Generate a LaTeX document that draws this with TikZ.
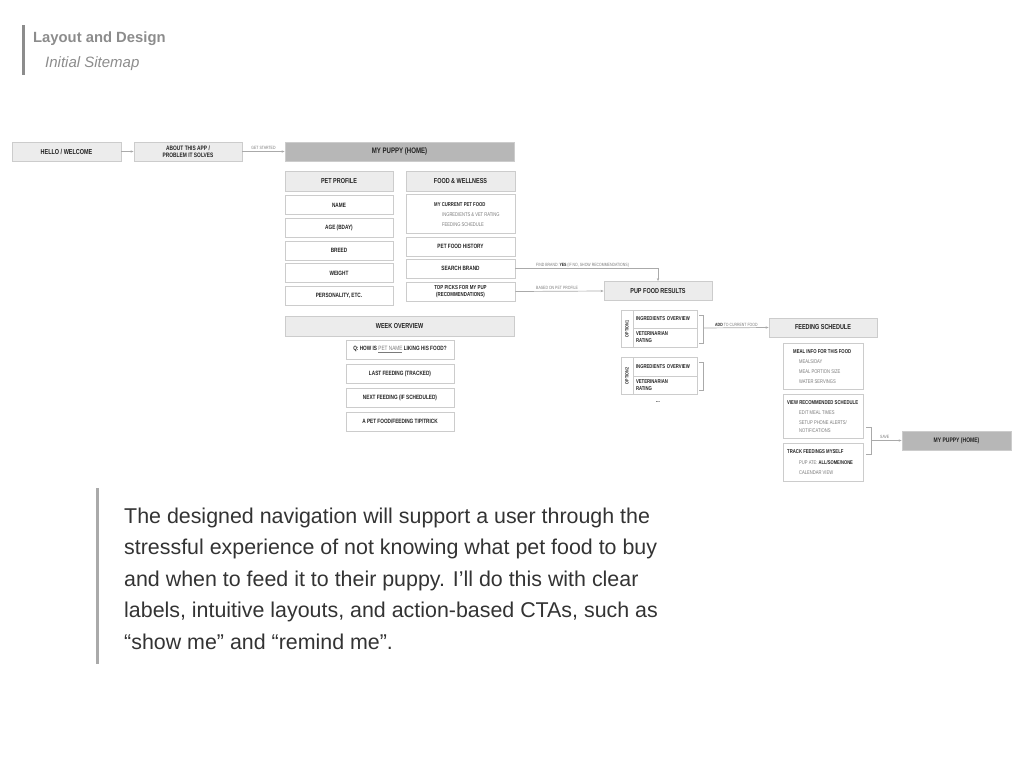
\documentclass[tikz,border=0pt]{standalone}
\usepackage{fontspec}
\setmainfont{Liberation Sans}
\newfontfamily\mapfont[FakeStretch=0.76]{Liberation Sans}
\usetikzlibrary{arrows.meta,positioning}

\definecolor{boxline}{HTML}{CCCCCC}
\definecolor{headfill}{HTML}{ECECEC}
\definecolor{homefill}{HTML}{B7B7B7}
\definecolor{mapink}{HTML}{222222}
\definecolor{subink}{HTML}{7A7A7A}
\definecolor{linkgray}{HTML}{AAAAAA}
\definecolor{titleink}{HTML}{8C8C8C}
\definecolor{bodyink}{HTML}{333333}

\tikzset{
  mapbox/.style={draw=boxline,line width=0.8pt,fill=white,minimum width=108pt,
    minimum height=19pt,inner sep=0pt,text=mapink,
    font=\mapfont\bfseries\fontsize{6.2}{7}\selectfont},
  headbox/.style={mapbox,fill=headfill,minimum height=20pt,
    font=\mapfont\bfseries\fontsize{7.2}{8}\selectfont},
  homebox/.style={headbox,fill=homefill},
  rowbox/.style={mapbox,minimum width=64pt,text width=58pt,align=left,
    font=\mapfont\bfseries\fontsize{5.6}{7}\selectfont},
  itemtitle/.style={anchor=west,inner sep=0pt,text=mapink,
    font=\mapfont\bfseries\fontsize{5.6}{7}\selectfont},
  itemsub/.style={anchor=west,inner sep=0pt,text=subink,
    font=\mapfont\fontsize{5.4}{7}\selectfont},
  linklabel/.style={inner sep=0pt,text=subink,
    font=\mapfont\fontsize{4.6}{5}\selectfont},
  link/.style={draw=linkgray,line width=0.7pt},
}

\begin{document}
\begin{tikzpicture}[x=1pt,y=-1pt,>={Stealth[length=3pt,width=2.4pt]}]
  \useasboundingbox (0,0) rectangle (1024,768);

  % page heading
  \fill[titleink] (22,25) rectangle (25,75);
  \node[anchor=base west,inner sep=0pt,text=titleink,font=\bfseries\fontsize{14.8}{16}\selectfont]
    (pagetitle) at (33,43) {Layout and Design};
  \node[anchor=base west,inner sep=0pt,text=titleink,font=\itshape\fontsize{15}{16}\selectfont]
    (pagesub) at (45,67) {Initial Sitemap};

  % top row
  \node[headbox,minimum height=19pt,minimum width=109pt] (hello) at (66.5,151.5) {HELLO / WELCOME};
  \node[headbox,minimum height=19pt,align=center,font=\mapfont\bfseries\fontsize{6.4}{6.6}\selectfont]
    (about) at (188,151.5) {ABOUT THIS APP /\\PROBLEM IT SOLVES};
  \node[homebox,minimum height=19pt,minimum width=229pt,font=\mapfont\bfseries\fontsize{8}{9}\selectfont]
    (home) at (399.5,151.5) {MY PUPPY (HOME)};
  \draw[link,->] (hello) -- (about);
  \draw[link,->] (about) -- node[linklabel,above=1.5pt] {GET STARTED} (home);

  % pet profile column
  \node[headbox] (profile) at (339,181) {PET PROFILE};
  \node[mapbox] (name) at (339,205) {NAME};
  \node[mapbox] (age) at (339,227.5) {AGE (BDAY)};
  \node[mapbox] (breed) at (339,250.5) {BREED};
  \node[mapbox] (weight) at (339,273) {WEIGHT};
  \node[mapbox] (personality) at (339,295.5) {PERSONALITY, ETC.};

  % food and wellness column
  \node[headbox,minimum width=109pt] (wellness) at (460.5,181) {FOOD \& WELLNESS};
  \node[mapbox,minimum width=109pt,minimum height=39pt] (current) at (460.5,213.5) {};
  \node[itemtitle] (currenttitle) at (434,205) {MY CURRENT PET FOOD};
  \node[itemsub] (currentrating) at (442,214.5) {INGREDIENTS \& VET RATING};
  \node[itemsub] (currentschedule) at (442,224.5) {FEEDING SCHEDULE};
  \node[mapbox,minimum width=109pt] (history) at (460.5,246.5) {PET FOOD HISTORY};
  \node[mapbox,minimum width=109pt] (search) at (460.5,268.5) {SEARCH BRAND};
  \node[mapbox,minimum width=109pt,align=center,font=\mapfont\bfseries\fontsize{5.8}{6.4}\selectfont]
    (toppicks) at (460.5,291.5) {TOP PICKS FOR MY PUP\\(RECOMMENDATIONS)};

  % week overview
  \node[headbox,minimum width=229pt] (week) at (399.5,326) {WEEK OVERVIEW};
  \node[mapbox] (question) at (400,349.5)
    {Q: HOW IS {\mdseries\color{subink}\underline{PET NAME}} LIKING HIS FOOD?};
  \node[mapbox] (last) at (400,373.5) {LAST FEEDING (TRACKED)};
  \node[mapbox] (next) at (400,397.5) {NEXT FEEDING (IF SCHEDULED)};
  \node[mapbox] (tip) at (400,421.5) {A PET FOOD/FEEDING TIP/TRICK};

  % pup food results
  \node[headbox,minimum height=19pt] (results) at (658,291) {PUP FOOD RESULTS};
  \draw[link,->] (search.east) -| (results.north);
  \node[linklabel,anchor=west] (findlabel) at (536,265.5)
    {FIND BRAND: {\bfseries\color{mapink}YES} (IF NO, SHOW RECOMMENDATIONS)};
  \draw[link,->] (toppicks.east) -- (results.west);
  \node[linklabel,anchor=west] (profilelabel) at (536,288) {BASED ON PET PROFILE};

  % option 1
  \node[mapbox,minimum width=12pt,minimum height=37pt] (opt1) at (627,328.5) {};
  \node[rotate=90,inner sep=0pt,text=mapink,font=\mapfont\bfseries\fontsize{4.8}{5}\selectfont]
    (opt1label) at (opt1) {OPTION 1};
  \node[rowbox,minimum height=18pt] (ing1) at (665,319) {INGREDIENTS OVERVIEW};
  \node[rowbox] (vet1) at (665,337.5) {VETERINARIAN\\RATING};
  \draw[link] (699,315) -- (703,315) -- (703,343) -- (699,343);
  \coordinate (brace1) at (703,328);

  % option 2
  \node[mapbox,minimum width=12pt,minimum height=37pt] (opt2) at (627,375.5) {};
  \node[rotate=90,inner sep=0pt,text=mapink,font=\mapfont\bfseries\fontsize{4.8}{5}\selectfont]
    (opt2label) at (opt2) {OPTION 2};
  \node[rowbox] (ing2) at (665,366.5) {INGREDIENTS OVERVIEW};
  \node[rowbox,minimum height=18pt] (vet2) at (665,385) {VETERINARIAN\\RATING};
  \draw[link] (699,362) -- (703,362) -- (703,390) -- (699,390);
  \node[inner sep=0pt,text=mapink,font=\mapfont\bfseries\fontsize{6}{7}\selectfont] (more) at (658,402) {...};

  % feeding schedule
  \node[headbox,minimum height=19pt] (feeding) at (823,327.5) {FEEDING SCHEDULE};
  \draw[link,->] (brace1) -- (feeding.west);
  \node[linklabel,anchor=west] (addlabel) at (715,325)
    {{\bfseries\color{mapink}ADD} TO CURRENT FOOD};

  \node[mapbox,minimum width=80pt,minimum height=46pt] (mealinfo) at (823,366) {};
  \node[itemtitle] (mealtitle) at (793,352) {MEAL INFO FOR THIS FOOD};
  \node[itemsub] (mealsday) at (799,361.5) {MEALS/DAY};
  \node[itemsub] (mealportion) at (799,371.5) {MEAL PORTION SIZE};
  \node[itemsub] (mealwater) at (799,381.5) {WATER SERVINGS};

  \node[mapbox,minimum width=80pt,minimum height=44pt] (viewrec) at (823,416) {};
  \node[itemtitle] (viewtitle) at (787,403) {VIEW RECOMMENDED SCHEDULE};
  \node[itemsub] (viewedit) at (799,413) {EDIT MEAL TIMES};
  \node[itemsub] (viewalerts) at (799,423) {SETUP PHONE ALERTS/};
  \node[itemsub] (viewnotes) at (799,430.5) {NOTIFICATIONS};

  \node[mapbox,minimum width=80pt,minimum height=38pt] (track) at (823,462) {};
  \node[itemtitle] (tracktitle) at (787,452) {TRACK FEEDINGS MYSELF};
  \node[itemsub] (trackate) at (799,463)
    {PUP ATE: {\bfseries\color{mapink}ALL/SOME/NONE}};
  \node[itemsub] (trackcal) at (799,473) {CALENDAR VIEW};

  % back home
  \node[homebox,minimum height=19pt,minimum width=109pt,font=\mapfont\bfseries\fontsize{6.6}{7}\selectfont]
    (home2) at (956.5,440.5) {MY PUPPY (HOME)};
  \draw[link] (866,427) -- (871,427) -- (871,454) -- (866,454);
  \coordinate (brace2) at (871,440.5);
  \draw[link,->] (brace2) -- (home2.west);
  \node[linklabel,anchor=west] (savelabel) at (880,437) {SAVE};

  % summary text
  \fill[linkgray] (96,488) rectangle (99,664);
  \node[anchor=base west,inner sep=0pt,align=left,text=bodyink,
    font=\fontsize{21.4}{31.5}\selectfont] (summary) at (124,649)
    {The designed navigation will support a user through the\\
     stressful experience of not knowing what pet food to buy\\
     and when to feed it to their puppy. I’ll do this with clear\\
     labels, intuitive layouts, and action-based CTAs, such as\\
     “show me” and “remind me”.};
\end{tikzpicture}
\end{document}
